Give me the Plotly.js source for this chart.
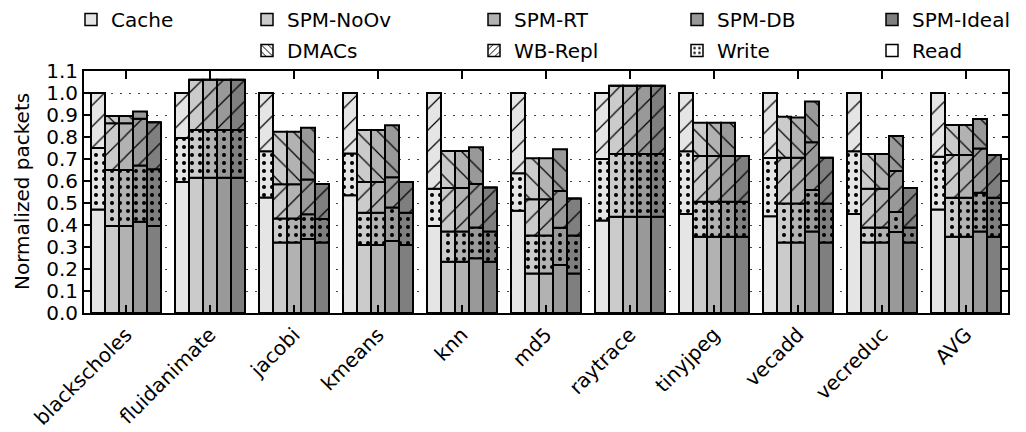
<!DOCTYPE html>
<html>
<head>
<meta charset="utf-8">
<script src="https://cdn.plot.ly/plotly-3.0.1.min.js"></script>
<style>html,body{margin:0;padding:0;background:#fff;}#chart{width:1026px;height:432px;}</style>
</head>
<body>
<div id="chart"></div>
<script>
// ---------------- data ----------------
const benchmarks = ['blackscholes','fluidanimate','jacobi','kmeans','knn','md5','raytrace','tinyjpeg','vecadd','vecreduc','AVG'];
const configs = ['Cache','SPM-NoOv','SPM-RT','SPM-DB','SPM-Ideal'];
const components = ['Read','Write','WB-Repl','DMACs'];
const yTitle = 'Normalized packets';

// segment heights (normalized packets), per configuration
const cacheRead  = [0.470,0.595,0.525,0.535,0.395,0.465,0.420,0.450,0.440,0.450,0.470];
const cacheWrite = [0.280,0.200,0.210,0.190,0.170,0.170,0.280,0.285,0.265,0.285,0.240];
const cacheWB    = [0.250,0.205,0.265,0.275,0.435,0.365,0.300,0.265,0.295,0.265,0.290];
const cacheDMA   = [0,0,0,0,0,0,0,0,0,0,0];

const noovRead  = [0.395,0.615,0.320,0.309,0.233,0.180,0.438,0.347,0.320,0.320,0.347];
const noovWrite = [0.255,0.217,0.110,0.147,0.137,0.172,0.285,0.159,0.178,0.069,0.177];
const noovWB    = [0.212,0.228,0.155,0.139,0.198,0.165,0.310,0.208,0.208,0.176,0.194];
const noovDMA   = [0.033,0,0.239,0.237,0.168,0.186,0,0.151,0.186,0.158,0.137];

const rtRead  = [0.395,0.615,0.320,0.309,0.233,0.180,0.438,0.347,0.320,0.320,0.347];
const rtWrite = [0.255,0.217,0.110,0.147,0.137,0.172,0.285,0.159,0.178,0.069,0.177];
const rtWB    = [0.212,0.228,0.155,0.139,0.198,0.165,0.310,0.208,0.208,0.176,0.194];
const rtDMA   = [0.033,0,0.239,0.237,0.168,0.186,0,0.151,0.183,0.158,0.137];

const dbRead  = [0.415,0.615,0.336,0.327,0.249,0.218,0.438,0.347,0.370,0.368,0.370];
const dbWrite = [0.255,0.217,0.113,0.152,0.140,0.170,0.285,0.159,0.189,0.091,0.177];
const dbWB    = [0.213,0.228,0.158,0.138,0.197,0.167,0.310,0.208,0.217,0.186,0.201];
const dbDMA   = [0.033,0,0.235,0.236,0.167,0.189,0,0.151,0.185,0.160,0.134];

const idealRead  = [0.395,0.615,0.320,0.309,0.233,0.180,0.438,0.347,0.320,0.320,0.347];
const idealWrite = [0.258,0.217,0.107,0.147,0.137,0.172,0.285,0.159,0.178,0.069,0.177];
const idealWB    = [0.214,0.228,0.159,0.139,0.200,0.168,0.310,0.208,0.208,0.179,0.194];
const idealDMA   = [0,0,0,0,0,0,0,0,0,0,0];

const yTickVals = [0,0.1,0.2,0.3,0.4,0.5,0.6,0.7,0.8,0.9,1.0,1.1];

// ---------------- styles ----------------
const configColors = {'Cache':'#e5e5e5','SPM-NoOv':'#cbcbcb','SPM-RT':'#b2b2b2','SPM-DB':'#999999','SPM-Ideal':'#7f7f7f'};
const compPattern = {
  'Read':   {shape:''},
  'Write':  {shape:'.', size:8, solidity:0.2},
  'WB-Repl':{shape:'/', size:15, solidity:0.08},
  'DMACs':  {shape:'\\', size:15, solidity:0.08}
};
const seriesData = {
  'Cache':     [cacheRead, cacheWrite, cacheWB, cacheDMA],
  'SPM-NoOv':  [noovRead, noovWrite, noovWB, noovDMA],
  'SPM-RT':    [rtRead, rtWrite, rtWB, rtDMA],
  'SPM-DB':    [dbRead, dbWrite, dbWB, dbDMA],
  'SPM-Ideal': [idealRead, idealWrite, idealWB, idealDMA]
};

const FONT = 'DejaVu Sans, sans-serif';
const traces = [];

configs.forEach(cfg => {
  const segs = seriesData[cfg];
  let base = benchmarks.map(() => 0);
  components.forEach((comp, ci) => {
    const vals = segs[ci];
    const p = compPattern[comp];
    const marker = {color: configColors[cfg], line:{color:'#000', width:2}};
    if (p.shape) marker.pattern = {shape:p.shape, size:p.size, solidity:p.solidity, fgcolor:'#000', bgcolor:configColors[cfg], fillmode:'replace'};
    traces.push({
      type:'bar', x:benchmarks, y:vals, base:base.slice(),
      offsetgroup:cfg, name:cfg+' '+comp, showlegend:false,
      marker:marker, hoverinfo:'x+y+name'
    });
    base = base.map((b,i) => b + vals[i]);
  });
});

// legend-only entries
function legendTrace(name, legendId, marker) {
  return {type:'bar', x:[null], y:[null], offsetgroup:'Cache', name:name, legend:legendId,
          legendgroup:name, showlegend:true, marker:marker, hoverinfo:'skip'};
}
const legendColumns = [
  ['Cache', null],
  ['SPM-NoOv', 'DMACs'],
  ['SPM-RT', 'WB-Repl'],
  ['SPM-DB', 'Write'],
  ['SPM-Ideal', 'Read']
];
const legendIds = ['legend','legend2','legend3','legend4','legend5'];
legendColumns.forEach((col, k) => {
  const [cfg, comp] = col;
  traces.push(legendTrace(cfg, legendIds[k], {color:configColors[cfg], line:{color:'#000', width:1.5}}));
  if (comp) {
    const p = compPattern[comp];
    const m = {color:'#ffffff', line:{color:'#000', width:1.5}};
    if (p.shape) m.pattern = {shape:p.shape, size:Math.min(p.size,6), solidity:0.2, fgcolor:'#000', bgcolor:'#ffffff', fillmode:'replace'};
    traces.push(legendTrace(comp, legendIds[k], m));
  }
});

const legendTextX = [112, 288, 515, 718, 913];
const legendBase = {
  xref:'container', yref:'container', xanchor:'left', yanchor:'top', y:1,
  bgcolor:'rgba(0,0,0,0)', borderwidth:0, font:{family:FONT, size:20, color:'#000'},
  tracegroupgap:2, itemclick:false, itemdoubleclick:false
};

const layout = {
  width:1026, height:432,
  margin:{l:84, r:18, t:71, b:119, pad:0, autoexpand:false},
  paper_bgcolor:'#fff', plot_bgcolor:'#fff',
  font:{family:FONT, size:20, color:'#000'},
  barmode:'group', bargap:1/6, bargroupgap:0,
  xaxis:{
    type:'category', tickangle:-45, tickfont:{family:FONT, size:20, color:'#000'},
    showline:true, linecolor:'#000', linewidth:2, mirror:'ticks',
    ticks:'inside', ticklen:8, tickwidth:1.5, tickcolor:'#000',
    showgrid:false, zeroline:false, range:[-0.5, benchmarks.length-0.5]
  },
  yaxis:{
    range:[0,1.1], tickvals:yTickVals, tickformat:'.1f',
    tickfont:{family:FONT, size:20, color:'#000'},
    showline:true, linecolor:'#000', linewidth:2, mirror:'ticks',
    ticks:'inside', ticklen:6, tickwidth:1.5, tickcolor:'#000',
    showgrid:true, gridcolor:'#444', gridwidth:1, griddash:'2px,7px', zeroline:false
  },
  annotations:[{
    text:yTitle, textangle:-90, showarrow:false,
    xref:'paper', yref:'paper', x:(22-84)/924, y:0.5, xanchor:'center', yanchor:'middle',
    font:{family:FONT, size:20, color:'#000'}
  }]
};
legendIds.forEach((id, k) => {
  layout[id] = Object.assign({}, legendBase, {x: (legendTextX[k]-41)/1026});
});

Plotly.newPlot('chart', traces, layout, {displayModeBar:false, staticPlot:true});
</script>
</body>
</html>
